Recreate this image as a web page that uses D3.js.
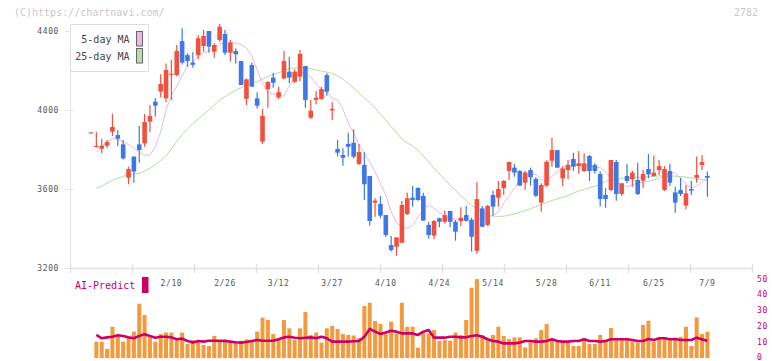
<!DOCTYPE html>
<html>
<head>
<meta charset="utf-8">
<script src="https://cdn.jsdelivr.net/npm/d3@7"></script>
<style>
  html, body { margin: 0; padding: 0; background: #fff; }
  svg { display: block; }
  text { font-family: "DejaVu Sans Mono", "Liberation Mono", monospace; }
</style>
</head>
<body>
<div id="chart"></div>
<script>
// trading days shown on the chart
const dates = [
  "1/20","1/21","1/22","1/23","1/24","1/27","1/28","1/29","1/30","1/31",
  "2/3","2/4","2/5","2/6","2/7","2/10","2/12","2/13","2/14","2/17",
  "2/18","2/19","2/20","2/21","2/25","2/26","2/27","2/28","3/3","3/4",
  "3/5","3/6","3/7","3/10","3/11","3/12","3/13","3/14","3/17","3/18",
  "3/19","3/21","3/24","3/25","3/26","3/27","3/28","3/31","4/1","4/2",
  "4/3","4/4","4/7","4/8","4/9","4/10","4/11","4/14","4/15","4/16",
  "4/17","4/18","4/21","4/22","4/23","4/24","4/25","4/28","4/30","5/1",
  "5/2","5/7","5/8","5/9","5/12","5/14","5/15","5/16","5/19","5/20",
  "5/21","5/22","5/23","5/26","5/27","5/28","5/29","5/30","6/2","6/3",
  "6/4","6/5","6/6","6/9","6/10","6/11","6/12","6/13","6/16","6/17",
  "6/18","6/19","6/20","6/23","6/24","6/25","6/26","6/27","6/30","7/1",
  "7/2","7/3","7/4","7/7","7/8","7/9"
];

const open = [
  3885,3812,3804,3819,3890,3873,3826,3657,3764,3826,
  3831,3941,4042,4093,4059,4180,4177,4349,4278,4240,
  4278,4324,4400,4295,4354,4385,4290,4299,4248,4057,
  4228,4059,3840,4106,4164,4064,4159,4194,4143,4169,
  4223,3961,4051,4056,4177,3998,3803,3772,3828,3834,
  3727,3722,3666,3531,3524,3468,3316,3308,3328,3473,
  3556,3605,3565,3418,3364,3452,3434,3489,3434,3438,
  3468,3443,3287,3502,3418,3570,3556,3604,3691,3708,
  3691,3632,3696,3651,3531,3617,3743,3797,3654,3696,
  3752,3716,3691,3767,3721,3676,3570,3595,3737,3575,
  3666,3649,3646,3642,3701,3666,3696,3595,3691,3583,
  3595,3516,3600,3657,3721,3666
];
const high = [
  3887,3887,3853,3848,3980,3899,3848,3713,3764,3919,
  3980,4025,4059,4181,4236,4253,4329,4414,4287,4292,
  4380,4405,4400,4338,4435,4405,4354,4312,4248,4160,
  4240,4090,4005,4143,4189,4118,4299,4270,4206,4304,
  4223,4051,4096,4118,4186,4039,3848,3806,3885,3902,
  3828,3786,3666,3553,3565,3468,3362,3355,3539,3581,
  3615,3610,3581,3434,3443,3455,3490,3489,3443,3507,
  3514,3455,3635,3514,3519,3591,3641,3646,3737,3727,
  3696,3691,3708,3659,3629,3745,3860,3797,3713,3747,
  3784,3792,3780,3772,3730,3688,3604,3747,3747,3629,
  3727,3693,3733,3696,3777,3769,3747,3716,3727,3612,
  3657,3620,3641,3764,3772,3688
];
const low = [
  3885,3812,3781,3808,3868,3818,3750,3624,3632,3733,
  3814,3890,3966,4064,4039,4051,4169,4231,4219,4214,
  4257,4295,4290,4265,4346,4278,4245,4236,4127,4025,
  4118,4008,3828,4012,4113,4056,4159,4135,4135,4147,
  4012,3954,4029,4051,4072,3949,3764,3718,3764,3755,
  3722,3544,3414,3460,3452,3357,3283,3262,3325,3468,
  3510,3540,3440,3350,3345,3406,3425,3406,3338,3413,
  3434,3283,3271,3406,3413,3465,3511,3570,3646,3662,
  3617,3595,3617,3558,3485,3612,3713,3708,3615,3649,
  3693,3676,3686,3641,3679,3511,3505,3590,3541,3565,
  3629,3612,3570,3605,3654,3662,3671,3590,3617,3480,
  3565,3497,3570,3632,3696,3561
];
const close = [
  3887,3818,3819,3838,3914,3855,3755,3701,3688,3797,
  3939,3970,4022,4132,4203,4184,4299,4240,4248,4229,
  4363,4375,4321,4329,4422,4290,4341,4282,4127,4155,
  4118,4022,3970,4143,4138,4090,4248,4164,4194,4284,
  4051,3996,4062,4106,4093,4006,3784,3758,3814,3764,
  3787,3624,3438,3541,3465,3367,3291,3355,3519,3553,
  3544,3544,3440,3367,3438,3434,3468,3434,3384,3455,
  3439,3358,3549,3409,3514,3511,3600,3641,3737,3683,
  3617,3684,3659,3566,3620,3738,3797,3708,3704,3722,
  3713,3730,3730,3691,3691,3549,3549,3747,3575,3629,
  3641,3683,3575,3676,3674,3683,3716,3701,3632,3531,
  3575,3578,3592,3671,3737,3657
];

// moving averages as plotted (first day has no point)
const ma5 = [
  null,3786,3815,3840,3857,3851,3840,3825,3807,3787,
  3770,3772,3813,3889,4000,4071,4122,4172,4220,4243,
  4271,4289,4299,4316,4334,4344,4344,4339,4332,4314,
  4273,4203,4137,4089,4081,4076,4071,4122,4167,4185,
  4189,4167,4132,4104,4091,4059,4051,4005,3934,3884,
  3823,3782,3737,3686,3628,3570,3484,3430,3405,3401,
  3415,3458,3494,3519,3501,3479,3463,3452,3448,3446,
  3445,3443,3446,3451,3458,3466,3484,3529,3565,3605,
  3641,3666,3679,3673,3648,3643,3663,3689,3713,3718,
  3722,3724,3725,3719,3711,3709,3688,3656,3635,3620,
  3613,3619,3628,3634,3639,3647,3652,3666,3684,3680,
  3652,3625,3605,3615,3635,3649
];
const ma25 = [
  null,3604,3615,3630,3644,3654,3664,3672,3676,3679,
  3691,3705,3722,3744,3767,3803,3841,3876,3904,3932,
  3954,3977,4000,4025,4050,4067,4085,4100,4112,4126,
  4137,4144,4157,4170,4180,4189,4198,4210,4213,4214,
  4213,4208,4203,4197,4192,4185,4173,4157,4134,4111,
  4086,4061,4038,4010,3980,3949,3916,3884,3854,3833,
  3818,3797,3767,3737,3706,3676,3648,3620,3592,3567,
  3542,3517,3499,3484,3468,3463,3461,3462,3468,3473,
  3482,3491,3500,3511,3521,3532,3542,3550,3558,3567,
  3578,3590,3598,3606,3614,3625,3638,3646,3650,3654,
  3655,3657,3659,3661,3662,3664,3666,3666,3666,3665,
  3663,3660,3656,3650,3649,3649
];

// lower panel: volume bars and AI-Predict line (right axis 0-50)
const volume = [
  0,10.3,10.3,5.7,19.7,13.9,10.3,13.0,16.6,34.2,
  27.1,13.0,10.3,15.1,16.0,16.0,11.8,16.0,8.8,11.3,
  11.3,8.2,7.6,13.9,10.3,11.8,9.7,10.3,10.9,11.8,
  10.3,16.6,25.4,23.9,15.1,11.3,23.9,18.7,11.3,18.7,
  29.0,14.5,16.0,9.7,18.7,20.2,18.3,15.1,14.5,14.2,
  12.6,32.7,34.8,23.3,21.4,15.1,22.9,15.5,34.8,19.7,
  19.7,6.5,16.0,15.5,17.6,10.7,11.3,10.9,16.0,14.5,
  23.9,44.3,49.7,14.5,11.3,14.5,19.7,13.9,12.0,13.0,
  13.0,6.7,9.9,12.4,17.6,21.4,11.3,10.7,10.3,10.3,
  7.6,7.6,11.3,8.8,8.8,14.5,11.3,18.9,12.4,12.4,
  11.3,10.3,9.7,20.8,23.5,10.3,12.4,13.0,11.8,12.4,
  13.4,19.7,7.6,25.6,15.1,16.6
];
const aiPredict = [
  null,14.5,12.4,13.0,13.4,14.3,13.9,13.0,12.4,13.9,
  14.9,13.9,12.8,13.4,13.4,13.0,11.8,12.2,10.7,9.7,
  10.7,10.3,10.9,10.9,10.9,10.7,10.3,9.9,9.7,10.1,
  10.7,11.3,10.9,10.9,10.9,11.8,13.0,13.4,12.8,12.4,
  12.8,13.0,12.4,13.4,12.4,10.3,10.3,10.3,10.3,10.5,
  10.7,13.4,18.3,16.6,15.1,16.0,17.2,16.6,15.5,15.5,
  15.5,14.5,16.6,17.6,12.8,12.8,12.8,13.4,13.4,13.0,
  13.0,13.9,14.3,13.4,11.8,10.7,10.3,9.2,9.2,9.2,
  9.7,10.7,10.7,10.3,10.3,10.7,11.8,10.7,10.3,10.3,
  10.7,10.7,11.8,10.7,10.7,10.3,10.7,11.8,11.8,11.8,
  11.8,11.3,10.7,10.7,12.0,11.3,12.4,12.4,11.8,12.0,
  11.3,11.3,11.3,12.8,11.8,10.7
];

const priceTicks = [3200, 3600, 4000, 4400];
const volTicks = [0, 10, 20, 30, 40, 50];
const labelDates = ["2/10","2/26","3/12","3/27","4/10","4/24","5/14","5/28","6/11","6/25","7/9"];
const legendItems = [
  { name: "5-day MA", color: "#e8b8e8" },
  { name: "25-day MA", color: "#b8dcaa" }
];

const width = 772, height = 361;
const plot = { left: 70, right: 752, top: 24, bottom: 268 };

const svg = d3.select("#chart").append("svg")
  .attr("width", width)
  .attr("height", height);

svg.append("rect").attr("width", width).attr("height", height).attr("fill", "#fff");

// scales
const x = d3.scalePoint().domain(dates).range([91, 707.4]);
const y = d3.scaleLinear().domain([3200, 4400]).range([268, 31]);
const yVol = d3.scaleLinear().domain([0, 50]).range([358, 278.6]);
const tickX = d3.scaleLinear().domain([0, 11]).range([plot.left, plot.right]);

// header texts
svg.append("text")
  .attr("x", 14).attr("y", 16)
  .attr("fill", "#c8c8c8")
  .style("font-size", "10px")
  .text("(C)https://chartnavi.com/");

svg.append("text")
  .attr("x", 758).attr("y", 16)
  .attr("text-anchor", "end")
  .attr("fill", "#c8c8c8")
  .style("font-size", "10px")
  .text("2782");

// axes lines
svg.append("line")
  .attr("x1", plot.left + 0.5).attr("x2", plot.left + 0.5)
  .attr("y1", plot.top).attr("y2", plot.bottom)
  .attr("stroke", "#e2e2e2");

svg.append("line")
  .attr("x1", plot.left).attr("x2", plot.right)
  .attr("y1", plot.bottom + 0.5).attr("y2", plot.bottom + 0.5)
  .attr("stroke", "#e2e2e2").attr("stroke-width", 1.5);

svg.append("g").selectAll("line")
  .data(d3.range(12))
  .join("line")
  .attr("x1", d => Math.round(tickX(d)) + 0.5)
  .attr("x2", d => Math.round(tickX(d)) + 0.5)
  .attr("y1", 264).attr("y2", 273)
  .attr("stroke", "#e2e2e2").attr("stroke-width", 1.5);

// price axis
const yAxis = svg.append("g");
yAxis.selectAll("line")
  .data(priceTicks)
  .join("line")
  .attr("x1", 65).attr("x2", 73)
  .attr("y1", d => Math.round(y(d)) + 0.5)
  .attr("y2", d => Math.round(y(d)) + 0.5)
  .attr("stroke", "#e2e2e2");
yAxis.selectAll("text")
  .data(priceTicks)
  .join("text")
  .attr("x", 59)
  .attr("y", d => y(d) + 3)
  .attr("text-anchor", "end")
  .attr("fill", "#555")
  .style("font-size", "8px")
  .style("letter-spacing", "0.6px")
  .text(d => d);

// date labels
svg.append("g").selectAll("text")
  .data(labelDates)
  .join("text")
  .attr("x", d => x(d))
  .attr("y", 285.5)
  .attr("text-anchor", "middle")
  .attr("fill", "#555")
  .style("font-size", "8px")
  .style("letter-spacing", "0.6px")
  .text(d => d);

// volume bars
svg.append("g").selectAll("rect")
  .data(dates.map((d, i) => ({ date: d, v: volume[i] })).filter(d => d.v > 0))
  .join("rect")
  .attr("x", d => x(d.date) - 2)
  .attr("y", d => yVol(d.v))
  .attr("width", 4)
  .attr("height", d => yVol(0) - yVol(d.v))
  .attr("fill", "#f39a3e");

// AI-Predict line
const aiLine = d3.line()
  .defined(d => d.v != null)
  .x(d => x(d.date))
  .y(d => yVol(d.v));
svg.append("path")
  .datum(dates.map((d, i) => ({ date: d, v: aiPredict[i] })))
  .attr("d", aiLine)
  .attr("fill", "none")
  .attr("stroke", "#cc0066")
  .attr("stroke-width", 2.6)
  .attr("stroke-linejoin", "round");

// right axis
svg.append("g").selectAll("text")
  .data(volTicks)
  .join("text")
  .attr("x", 757)
  .attr("y", d => Math.min(yVol(d) + 3, 359.5))
  .attr("fill", "#cc0066")
  .style("font-size", "8px")
  .style("letter-spacing", "0.6px")
  .text(d => d);

// AI-Predict label
svg.append("text")
  .attr("x", 75).attr("y", 289)
  .attr("fill", "#cc0066")
  .style("font-size", "10px")
  .text("AI-Predict");
svg.append("rect")
  .attr("x", 142).attr("y", 277)
  .attr("width", 6.5).attr("height", 16)
  .attr("fill", "#cc0066");

// moving averages
const maLine = d3.line()
  .defined(d => d.v != null)
  .x(d => x(d.date))
  .y(d => y(d.v));
svg.append("path")
  .datum(dates.map((d, i) => ({ date: d, v: ma25[i] })))
  .attr("d", maLine)
  .attr("fill", "none")
  .attr("stroke", "#b4dca4")
  .attr("stroke-width", 1);
svg.append("path")
  .datum(dates.map((d, i) => ({ date: d, v: ma5[i] })))
  .attr("d", maLine)
  .attr("fill", "none")
  .attr("stroke", "#e8b8e8")
  .attr("stroke-width", 1);

// candles
const candles = dates.map((d, i) => ({
  date: d, o: open[i], h: high[i], l: low[i], c: close[i]
}));
const colorOf = d => d.c >= d.o ? "#f2503e" : "#3d78e6";

const cg = svg.append("g").selectAll("g")
  .data(candles)
  .join("g");
cg.append("line")
  .attr("x1", d => x(d.date)).attr("x2", d => x(d.date))
  .attr("y1", d => y(d.h)).attr("y2", d => y(d.l))
  .attr("stroke", colorOf)
  .attr("stroke-width", 1.2);
cg.append("rect")
  .attr("x", d => x(d.date) - 2.3)
  .attr("width", 4.6)
  .attr("y", d => y(Math.max(d.o, d.c)))
  .attr("height", d => Math.max(1.2, Math.abs(y(d.o) - y(d.c))))
  .attr("fill", colorOf);

// legend
const legend = svg.append("g");
legend.append("rect")
  .attr("x", 70.5).attr("y", 24.5)
  .attr("width", 78).attr("height", 47)
  .attr("fill", "#fff")
  .attr("stroke", "#dedede");
legendItems.forEach((item, i) => {
  legend.append("text")
    .attr("x", 129.5).attr("y", 43 + i * 17.3)
    .attr("text-anchor", "end")
    .attr("fill", "#444")
    .style("font-size", "10px")
    .text(item.name);
  legend.append("rect")
    .attr("x", 136.5).attr("y", 31.5 + i * 17)
    .attr("width", 6).attr("height", 14.5)
    .attr("fill", item.color)
    .attr("stroke", "#666");
});
</script>
</body>
</html>
